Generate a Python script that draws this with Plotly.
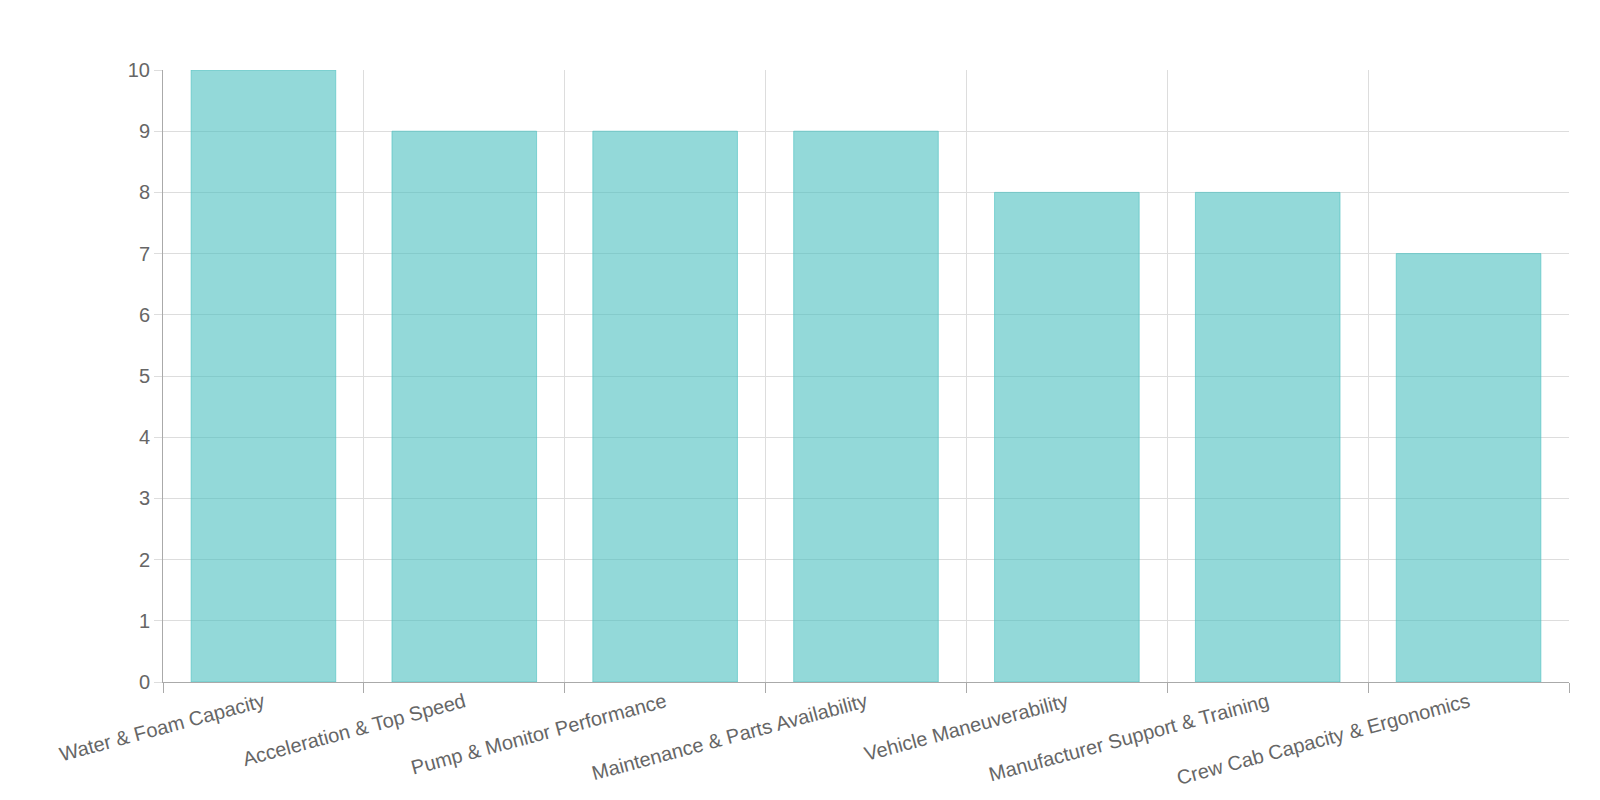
import plotly.graph_objects as go

categories = ["Water & Foam Capacity", "Acceleration & Top Speed", "Pump & Monitor Performance",
              "Maintenance & Parts Availability", "Vehicle Maneuverability",
              "Manufacturer Support & Training", "Crew Cab Capacity & Ergonomics"]
ratings = [10, 9, 9, 9, 8, 8, 7]
positions = list(range(len(categories)))

fig = go.Figure(go.Bar(
    x=positions, y=ratings, name="Importance Rating",
    marker=dict(color="rgba(75,192,192,0.6)", line=dict(color="rgba(75,192,192,0.6)", width=1)),
    showlegend=True,
))
fig.update_layout(
    width=1600, height=800, plot_bgcolor="white", paper_bgcolor="white",
    margin=dict(l=155, r=39, t=62, b=126, autoexpand=False),
    font=dict(family="Liberation Sans, Arial, sans-serif", size=20, color="#666"),
    bargap=0.28,
    legend=dict(orientation="h", x=0.5, xanchor="center", y=1.1, yanchor="bottom",
                font=dict(size=20, color="#666")),
    xaxis=dict(range=[-0.5, len(categories) - 0.5], tickvals=positions, ticktext=categories,
               tickangle=-15, showgrid=False, showline=True, linecolor="#aaa", ticks="",
               automargin=False,
               minor=dict(tick0=-0.5, dtick=1, showgrid=True, gridcolor="#ddd",
                          ticks="outside", ticklen=10, tickcolor="#aaa"),
               tickfont=dict(size=20)),
    yaxis=dict(range=[0, 10], dtick=1, showgrid=True, gridcolor="#ddd", showline=True,
               linecolor="#aaa", ticks="outside", ticklen=8, tickcolor="#ddd", zeroline=False,
               automargin=False, tickfont=dict(size=20)),
)
fig.write_html("out.html")
